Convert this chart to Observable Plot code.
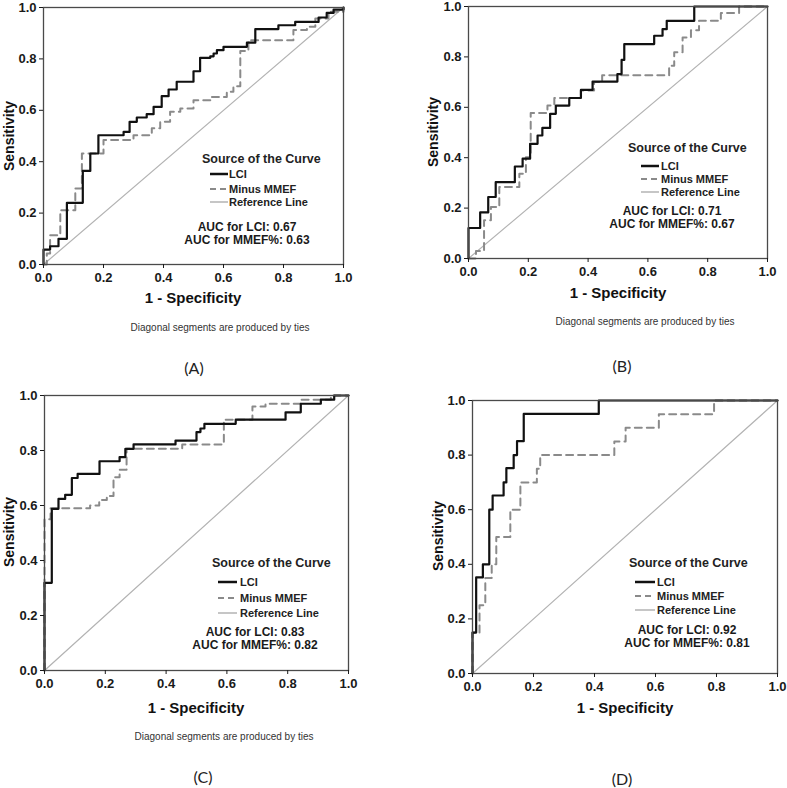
<!DOCTYPE html>
<html><head><meta charset="utf-8">
<script src="https://cdn.jsdelivr.net/npm/d3@7"></script>
<script src="https://cdn.jsdelivr.net/npm/@observablehq/plot@0.6"></script>
<style>
body{margin:0;background:#fff;}
#root{position:relative;width:787px;height:788px;overflow:hidden;font-family:"Liberation Sans",Arial,sans-serif;color:#111;background:#fff;}
.abs{position:absolute;white-space:nowrap;line-height:1;}
.plot{position:absolute;}
</style></head><body><div id="root"></div>
<script>
// ---- data ----
const tickValues = [0, 0.2, 0.4, 0.6, 0.8, 1.0];
const panelLabels = ["(A)", "(B)", "(C)", "(D)"];
const seriesNames = ["LCI", "Minus MMEF", "Reference Line"];
const aucLCI = ["0.67", "0.71", "0.83", "0.92"];
const aucMMEF = ["0.63", "0.67", "0.82", "0.81"];
const captionText = "Diagonal segments are produced by ties";
const xTitle = "1 - Specificity";
const yTitle = "Sensitivity";
const legendTitle = "Source of the Curve";
const referenceLine = [[0, 0], [1, 1]];

// ROC vertices [1 - specificity, sensitivity] (step-after)
const lciA = [[0,0],[0,0.058],[0.022,0.071],[0.05,0.10],[0.078,0.24],[0.131,0.364],[0.156,0.432],[0.183,0.503],[0.267,0.516],[0.287,0.555],[0.311,0.572],[0.344,0.585],[0.367,0.613],[0.394,0.655],[0.417,0.681],[0.444,0.711],[0.5,0.752],[0.522,0.804],[0.556,0.81],[0.567,0.821],[0.578,0.834],[0.6,0.847],[0.678,0.863],[0.706,0.916],[0.783,0.931],[0.839,0.944],[0.917,0.961],[0.944,0.979],[0.967,0.992],[1,1]];
const mmefA = [[0,0],[0.011,0.043],[0.022,0.114],[0.056,0.211],[0.106,0.296],[0.128,0.432],[0.2,0.484],[0.3,0.503],[0.361,0.53],[0.389,0.555],[0.422,0.594],[0.456,0.607],[0.5,0.639],[0.556,0.652],[0.611,0.672],[0.633,0.694],[0.656,0.831],[0.683,0.873],[0.833,0.912],[0.878,0.925],[0.906,0.957],[0.95,0.983],[1,1]];
const lciB = [[0,0],[0,0.121],[0.039,0.183],[0.066,0.244],[0.091,0.303],[0.155,0.365],[0.181,0.396],[0.206,0.455],[0.231,0.488],[0.247,0.518],[0.273,0.574],[0.292,0.607],[0.337,0.637],[0.376,0.669],[0.415,0.702],[0.498,0.732],[0.512,0.788],[0.521,0.851],[0.621,0.884],[0.649,0.91],[0.663,0.943],[0.755,1],[1,1]];
const mmefB = [[0,0],[0.025,0.03],[0.052,0.152],[0.075,0.204],[0.103,0.284],[0.17,0.336],[0.192,0.402],[0.208,0.577],[0.264,0.607],[0.287,0.637],[0.376,0.667],[0.42,0.70],[0.447,0.727],[0.671,0.765],[0.688,0.818],[0.716,0.877],[0.744,0.906],[0.771,0.943],[0.844,0.974],[0.905,1],[1,1]];
const lciC = [[0,0],[0,0.319],[0.024,0.588],[0.046,0.624],[0.068,0.639],[0.09,0.70],[0.109,0.715],[0.181,0.761],[0.247,0.776],[0.266,0.806],[0.293,0.822],[0.431,0.836],[0.5,0.867],[0.513,0.88],[0.526,0.897],[0.629,0.912],[0.793,0.939],[0.843,0.97],[0.909,0.985],[0.953,1],[1,1]];
const mmefC = [[0,0],[0,0.55],[0.02,0.59],[0.15,0.60],[0.18,0.62],[0.205,0.635],[0.227,0.703],[0.247,0.73],[0.27,0.806],[0.453,0.822],[0.59,0.912],[0.684,0.96],[0.727,0.97],[0.843,0.985],[0.942,1],[1,1]];
const lciD = [[0,0],[0,0.15],[0.012,0.352],[0.034,0.40],[0.055,0.60],[0.066,0.652],[0.102,0.70],[0.111,0.752],[0.135,0.80],[0.146,0.851],[0.168,0.951],[0.414,1],[1,1]];
const mmefD = [[0,0],[0,0.15],[0.023,0.25],[0.042,0.35],[0.063,0.40],[0.078,0.50],[0.124,0.60],[0.157,0.70],[0.211,0.75],[0.222,0.80],[0.465,0.85],[0.502,0.90],[0.611,0.95],[0.792,1],[1,1]];

// ---- layout (page pixel positions) ----
const layout = [
  {lci: lciA, mmef: mmefA, left:0, top:0, w:390, h:310, ml:43, mr:47, mt:7, mb:46,
   xt:[193,297], yt:[9,136], cap:[220,328], lab:[194,368],
   lg:{hx:202, hy:159, sx:210, sw:18, tx:229, rows:[174,189,202], ax:247, ay:[227,240]}},
  {lci: lciB, mmef: mmefB, left:390, top:0, w:397, h:310, ml:78, mr:20, mt:6, mb:52,
   xt:[618,292], yt:[433,132], cap:[645,322], lab:[622,366],
   lg:{hx:628, hy:148, sx:641, sw:18, tx:661, rows:[166,179,192], ax:672, ay:[211,224]}},
  {lci: lciC, mmef: mmefC, left:0, top:385, w:390, h:330, ml:44, mr:42, mt:10, mb:45,
   xt:[196,707], yt:[9,532], cap:[224,737], lab:[203,777],
   lg:{hx:212, hy:563, sx:218, sw:19, tx:240, rows:[582,598,613], ax:255, ay:[632,645]}},
  {lci: lciD, mmef: mmefD, left:390, top:390, w:397, h:325, ml:82, mr:10, mt:10, mb:42,
   xt:[625,707], yt:[438,536], cap:null, lab:[622,779],
   lg:{hx:629, hy:563, sx:635, sw:20, tx:657, rows:[582,596,610], ax:687, ay:[629.5,642.5]}}
];

const root = document.getElementById("root");
const fmt = d3.format(".1f");

function addText(txt, x, y, css, anchor) {
  const d = document.createElement("div");
  d.className = "abs";
  d.textContent = txt;
  d.style.left = x + "px";
  d.style.top = y + "px";
  const tx = anchor === "middle" ? "-50%" : "0";
  d.style.transform = `translate(${tx},-50%)` + (css.rotate ? " rotate(-90deg)" : "");
  for (const k in css) if (k !== "rotate") d.style[k] = css[k];
  root.appendChild(d);
  return d;
}

function addSwatch(x, y, w, stroke, width, dash) {
  const ns = "http://www.w3.org/2000/svg";
  const s = document.createElementNS(ns, "svg");
  s.setAttribute("width", w); s.setAttribute("height", 6);
  s.style.position = "absolute"; s.style.left = x + "px"; s.style.top = (y - 3) + "px";
  const l = document.createElementNS(ns, "line");
  l.setAttribute("x1", 0); l.setAttribute("x2", w); l.setAttribute("y1", 3); l.setAttribute("y2", 3);
  l.setAttribute("stroke", stroke); l.setAttribute("stroke-width", width);
  if (dash) l.setAttribute("stroke-dasharray", dash);
  s.appendChild(l);
  root.appendChild(s);
}

layout.forEach((p, i) => {
  const chart = Plot.plot({
    width: p.w, height: p.h,
    marginLeft: p.ml, marginRight: p.mr, marginTop: p.mt, marginBottom: p.mb,
    x: {domain: [0, 1]},
    y: {domain: [0, 1]},
    style: {fontFamily: "Liberation Sans, Arial, sans-serif", fontSize: "13px", fontWeight: "bold", color: "#1a1a1a", background: "transparent", overflow: "visible"},
    marks: [
      Plot.line(referenceLine, {x: d => d[0], y: d => d[1], stroke: "#b3b3b3", strokeWidth: 1.2}),
      Plot.line(p.mmef, {x: d => d[0], y: d => d[1], curve: "step-after", stroke: "#8a8a8a", strokeWidth: 2, strokeDasharray: "7,5"}),
      Plot.line(p.lci, {x: d => d[0], y: d => d[1], curve: "step-after", stroke: "#111", strokeWidth: 2.2}),
      Plot.frame({stroke: "#4a4a4a", strokeWidth: 1.3}),
      Plot.axisX({ticks: tickValues, tickFormat: fmt, tickSize: 4, tickPadding: 4, label: null}),
      Plot.axisY({ticks: tickValues, tickFormat: fmt, tickSize: 4, tickPadding: 3, label: null})
    ]
  });
  chart.classList.add("plot");
  chart.style.left = p.left + "px";
  chart.style.top = p.top + "px";
  root.appendChild(chart);

  addText(xTitle, p.xt[0], p.xt[1], {fontSize: "15px", fontWeight: "bold"}, "middle");
  addText(yTitle, p.yt[0], p.yt[1], {fontSize: "14px", fontWeight: "bold", rotate: true}, "middle");
  if (p.cap) addText(captionText, p.cap[0], p.cap[1], {fontSize: "10px", color: "#333"}, "middle");
  addText(panelLabels[i], p.lab[0], p.lab[1], {fontSize: "16px", fontFamily: "Lato, 'Open Sans', sans-serif", color: "#222"}, "middle");

  const g = p.lg;
  addText(legendTitle, g.hx, g.hy, {fontSize: "12.5px", fontWeight: "bold", color: "#222"});
  addSwatch(g.sx, g.rows[0], g.sw, "#111", 2.5, null);
  addSwatch(g.sx, g.rows[1], g.sw, "#8a8a8a", 2, "6,4");
  addSwatch(g.sx, g.rows[2], g.sw, "#b3b3b3", 1.5, null);
  seriesNames.forEach((n, k) => addText(n, g.tx, g.rows[k], {fontSize: "11px", fontWeight: "bold", color: "#222"}));
  const aucCss = {fontSize: "12px", fontWeight: "bold", color: "#1a1a1a", lineHeight: "12px", height: "12px"};
  addText("AUC for LCI: " + aucLCI[i], g.ax, g.ay[0], aucCss, "middle");
  addText("AUC for MMEF%: " + aucMMEF[i], g.ax, g.ay[1], aucCss, "middle");
});
</script>
</body></html>
